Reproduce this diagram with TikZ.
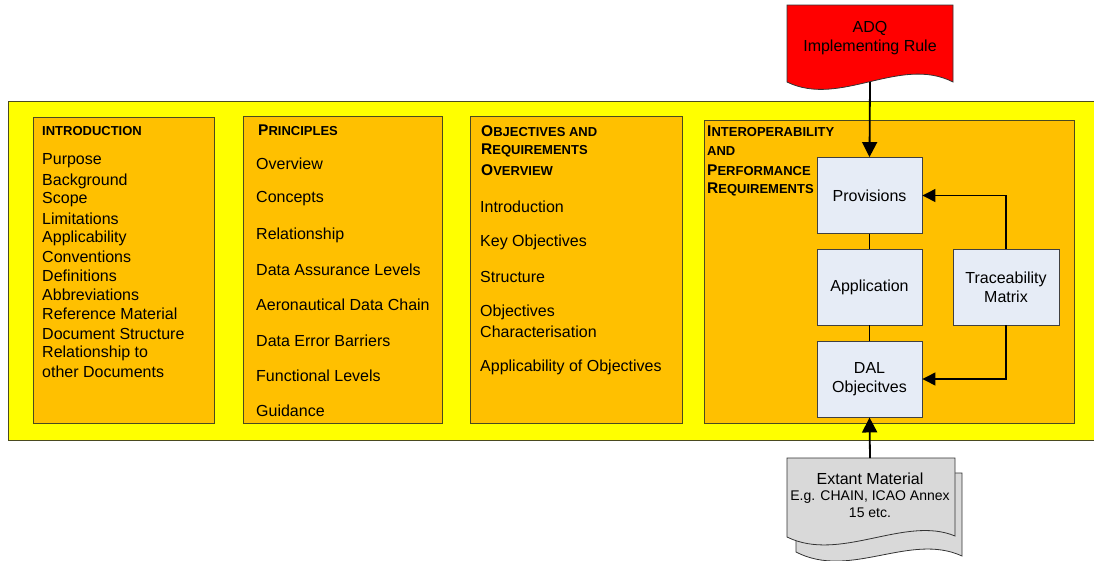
\documentclass[tikz,border=0pt]{standalone}
\usepackage{fontspec}
\setmainfont{Liberation Sans}
\usetikzlibrary{arrows.meta}
\definecolor{yel}{HTML}{FFFF00}
\definecolor{org}{HTML}{FFC000}
\definecolor{lbox}{HTML}{E6ECF6}
\definecolor{rdoc}{HTML}{FF0000}
\definecolor{gdoc}{HTML}{D9D9D9}
\definecolor{edge}{HTML}{4A4A20}
\newcommand\fs[1]{\fontsize{#1}{19}\selectfont}
\newcommand\hsc[2]{\textbf{{\fs{15.5}#1}{\fs{13}#2}}}
\begin{document}
\begin{tikzpicture}[x=1pt,y=-1pt,
  section/.style={draw=edge,line width=0.9pt,fill=org,inner sep=0pt},
  item/.style={anchor=west,inner sep=0pt,font=\fs{16}},
  head/.style={anchor=west,inner sep=0pt},
  blk/.style={draw=black!75,line width=0.9pt,fill=lbox,minimum width=105pt,minimum height=76pt,inner sep=1pt,align=center,font=\fs{16}},
  mainarrow/.style={line width=1.8pt,-{Triangle[length=15pt,width=15pt]}},
  fbarrow/.style={line width=1.3pt,-{Triangle[length=13pt,width=13pt]}},
  link/.style={line width=1.3pt}]
\useasboundingbox (0,0) rectangle (1094,560);
% yellow band
\fill[yel] (8,101) rectangle (1100,440);
\draw[edge,line width=0.9pt] (1100,101) -- (8,101) -- (8,440) -- (1100,440);
% sections
\node[section,minimum width=181pt,minimum height=306pt] (s1) at (123.5,270) {};
\node[section,minimum width=199pt,minimum height=307pt] (s2) at (342.5,269.5) {};
\node[section,minimum width=212pt,minimum height=307pt] (s3) at (576,269.5) {};
\node[section,minimum width=370pt,minimum height=303pt] (s4) at (889,271.5) {};
% section 1
\node[head] (h1) at (42,131) {\bfseries\fs{13}INTRODUCTION};
\foreach \t/\y [count=\i] in {Purpose/161,Background/181,Scope/200,Limitations/219,Applicability/238,Conventions/257,Definitions/276,Abbreviations/295,Reference Material/314,Document Structure/334,Relationship to/353,other Documents/372}
  \node[item] (a\i) at (42,\y) {\t};
% section 2
\node[head] (h2) at (258,130) {\hsc{P}{RINCIPLES}};
\foreach \t/\y [count=\i] in {Overview/164,Concepts/199,Relationship/235,Data Assurance Levels/270,Aeronautical Data Chain/305,Data Error Barriers/341,Functional Levels/376,Guidance/411}
  \node[item] (b\i) at (256,\y) {\t};
% section 3
\node[head] (h3a) at (481,131) {\hsc{O}{BJECTIVES AND}};
\node[head] (h3b) at (481,150) {\hsc{R}{EQUIREMENTS}};
\node[head] (h3c) at (481,170) {\hsc{O}{VERVIEW}};
\foreach \t/\y [count=\i] in {Introduction/207,Key Objectives/242,Structure/277,Objectives/312,Characterisation/332,Applicability of Objectives/367}
  \node[item] (c\i) at (480,\y) {\t};
% section 4
\node[head] (h4a) at (707,131) {\hsc{I}{NTEROPERABILITY}};
\node[head] (h4b) at (707,151) {\textbf{\fs{13}AND}};
\node[head] (h4c) at (707,170) {\hsc{P}{ERFORMANCE}};
\node[head] (h4d) at (707,189) {\hsc{R}{EQUIREMENTS}};
\node[blk] (prov) at (869.5,195.5) {Provisions};
\node[blk] (appl) at (869.5,287) {Application};
\node[blk] (dal) at (869.5,379) {DAL\\Objecitves};
\node[blk,minimum width=106pt] (trace) at (1006,287) {Traceability\\Matrix};
\draw[link] (prov) -- (appl);
\draw[link] (appl) -- (dal);
\draw[fbarrow] (trace.north) |- (prov.east);
\draw[fbarrow] (trace.south) |- (dal.east);
% ADQ document
\draw[black!80,line width=0.8pt,fill=rdoc] (787,5) -- (953,5) -- (953,82)
  .. controls (900,55) and (840,108) .. (787,82) -- cycle;
\node[align=center,font=\fs{16},text=black] (adq) at (870,38) {ADQ\\Implementing Rule};
\coordinate (adqb) at (870,82);
\draw[mainarrow] (adqb) -- (prov.north);
% Extant material documents
\draw[black!80,line width=0.8pt,fill=gdoc] (796,473) -- (962,473) -- (962,556)
  .. controls (910,532) and (850,580) .. (796,552) -- cycle;
\draw[black!80,line width=0.8pt,fill=gdoc] (787,458) -- (955,458) -- (955,536)
  .. controls (905,515) and (840,563) .. (787,537) -- cycle;
\node[font=\fs{16}] (ext) at (870,479) {Extant Material};
\node[align=center,font={\fontsize{14}{16.5}\selectfont}] (exts) at (870,504) {E.g. CHAIN, ICAO Annex\\15 etc.};
\coordinate (extt) at (870,458);
\draw[mainarrow] (extt) -- (dal.south);
\end{tikzpicture}
\end{document}
